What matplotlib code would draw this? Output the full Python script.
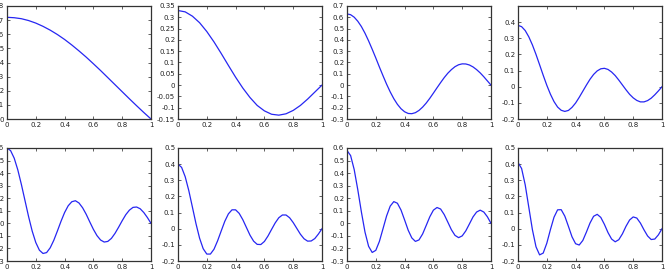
import matplotlib

matplotlib.use('Agg')

import matplotlib.pyplot as plt
import numpy as np
from matplotlib.ticker import FuncFormatter

# muestras (x en [0, 1])
X_GRUESO = [0.00, 0.05, 0.10, 0.15, 0.20, 0.25, 0.30, 0.35, 0.40, 0.45, 0.50,
            0.55, 0.60, 0.65, 0.70, 0.75, 0.80, 0.85, 0.90, 0.95, 1.00]
X_FINO = [0.000, 0.025, 0.050, 0.075, 0.100, 0.125, 0.150, 0.175, 0.200, 0.225,
          0.250, 0.275, 0.300, 0.325, 0.350, 0.375, 0.400, 0.425, 0.450, 0.475,
          0.500, 0.525, 0.550, 0.575, 0.600, 0.625, 0.650, 0.675, 0.700, 0.725,
          0.750, 0.775, 0.800, 0.825, 0.850, 0.875, 0.900, 0.925, 0.950, 0.975, 1.000]

MODO_1 = [0.720, 0.717, 0.710, 0.697, 0.679, 0.656, 0.629, 0.598, 0.563, 0.524, 0.482,
          0.438, 0.391, 0.343, 0.293, 0.243, 0.193, 0.143, 0.094, 0.046, 0.000]
MODO_2 = [0.330, 0.324, 0.305, 0.276, 0.237, 0.191, 0.140, 0.087, 0.035, -0.013, -0.055,
          -0.090, -0.114, -0.129, -0.133, -0.127, -0.112, -0.090, -0.062, -0.031, 0.000]
MODO_3 = [0.630, 0.623, 0.601, 0.565, 0.518, 0.459, 0.391, 0.317, 0.240, 0.160, 0.083,
          0.008, -0.060, -0.120, -0.170, -0.209, -0.236, -0.251, -0.253, -0.244, -0.224,
          -0.195, -0.159, -0.117, -0.071, -0.024, 0.022, 0.066, 0.105, 0.137, 0.163,
          0.180, 0.188, 0.187, 0.178, 0.161, 0.137, 0.108, 0.074, 0.037, 0.000]
MODO_4 = [0.380, 0.372, 0.348, 0.309, 0.259, 0.200, 0.136, 0.071, 0.009, -0.046, -0.092,
          -0.126, -0.146, -0.153, -0.147, -0.128, -0.101, -0.066, -0.028, 0.010, 0.046,
          0.076, 0.098, 0.111, 0.114, 0.107, 0.091, 0.069, 0.041, 0.011, -0.019,
          -0.047, -0.069, -0.085, -0.094, -0.094, -0.086, -0.071, -0.050, -0.026, 0.000]
MODO_5 = [0.600, 0.579, 0.519, 0.426, 0.309, 0.181, 0.053, -0.062, -0.153, -0.214, -0.240,
          -0.233, -0.195, -0.135, -0.061, 0.016, 0.086, 0.140, 0.172, 0.180, 0.162,
          0.124, 0.072, 0.011, -0.048, -0.098, -0.133, -0.149, -0.144, -0.120, -0.080,
          -0.031, 0.021, 0.069, 0.105, 0.127, 0.130, 0.116, 0.086, 0.046, 0.000]
MODO_6 = [0.400, 0.380, 0.322, 0.236, 0.134, 0.031, -0.059, -0.124, -0.157, -0.157, -0.127,
          -0.075, -0.014, 0.046, 0.092, 0.117, 0.117, 0.095, 0.056, 0.008, -0.040,
          -0.077, -0.097, -0.098, -0.079, -0.045, -0.004, 0.036, 0.068, 0.085, 0.085,
          0.068, 0.038, 0.002, -0.034, -0.062, -0.077, -0.076, -0.061, -0.033, 0.000]
MODO_7 = [0.580, 0.540, 0.428, 0.267, 0.090, -0.070, -0.183, -0.232, -0.215, -0.144, -0.043,
          0.059, 0.137, 0.173, 0.160, 0.106, 0.027, -0.055, -0.116, -0.144, -0.132,
          -0.085, -0.017, 0.052, 0.105, 0.126, 0.114, 0.070, 0.010, -0.051, -0.096,
          -0.114, -0.100, -0.060, -0.005, 0.051, 0.090, 0.105, 0.090, 0.052, 0.000]
MODO_8 = [0.410, 0.373, 0.272, 0.133, -0.006, -0.112, -0.162, -0.151, -0.090, -0.006, 0.071,
          0.117, 0.118, 0.078, 0.015, -0.050, -0.093, -0.101, -0.073, -0.021, 0.035,
          0.077, 0.089, 0.070, 0.027, -0.024, -0.064, -0.081, -0.068, -0.032, 0.015,
          0.054, 0.073, 0.066, 0.035, -0.007, -0.045, -0.067, -0.064, -0.038, 0.000]

# limites y marcas del eje y de cada panel: (ymin, ymax, primera marca, ultima marca, paso)
EJES_Y = [
    (0.0, 0.8, 0.0, 0.8, 0.1),
    (-0.15, 0.35, -0.15, 0.35, 0.05),
    (-0.3, 0.7, -0.3, 0.7, 0.1),
    (-0.2, 0.5, -0.2, 0.4, 0.1),
    (-0.3, 0.6, -0.3, 0.6, 0.1),
    (-0.2, 0.5, -0.2, 0.5, 0.1),
    (-0.3, 0.6, -0.3, 0.6, 0.1),
    (-0.2, 0.5, -0.2, 0.5, 0.1),
]
MARCAS_X = [0, 0.2, 0.4, 0.6, 0.8, 1]

W, H = 667, 271
IZQ = [7, 178, 347, 518]
ANCHO = 144
ARRIBA = [6, 148]
ALTO = 113


def etiqueta(v, _pos):
    v = round(v, 4)
    if v == 0:
        return '0'
    return f'{v:g}'


def main():
    fig = plt.figure(figsize=(W / 100, H / 100), dpi=100)
    series = [
        (X_GRUESO, MODO_1), (X_GRUESO, MODO_2), (X_FINO, MODO_3), (X_FINO, MODO_4),
        (X_FINO, MODO_5), (X_FINO, MODO_6), (X_FINO, MODO_7), (X_FINO, MODO_8),
    ]
    for i, (xs, ys) in enumerate(series):
        fila, col = divmod(i, 4)
        rect = [IZQ[col] / W, 1 - (ARRIBA[fila] + ALTO) / H, ANCHO / W, ALTO / H]
        ax = fig.add_axes(rect)
        ax.plot(xs, ys, color=(0.15, 0.15, 0.95), linewidth=0.9)

        ymin, ymax, t0, t1, paso = EJES_Y[i]
        ax.set_xlim(0, 1)
        ax.set_ylim(ymin, ymax)
        ax.set_xticks(MARCAS_X)
        ax.set_yticks(np.arange(t0, t1 + paso / 2, paso))
        ax.xaxis.set_major_formatter(FuncFormatter(etiqueta))
        ax.yaxis.set_major_formatter(FuncFormatter(etiqueta))
        ax.tick_params(direction='in', length=2, width=0.5, labelsize=5,
                       top=True, right=True, pad=2, colors='#222222')
        for lado in ax.spines.values():
            lado.set_linewidth(0.9)
            lado.set_color('#333333')

    fig.savefig('out.png', dpi=100)


if __name__ == '__main__':
    main()
